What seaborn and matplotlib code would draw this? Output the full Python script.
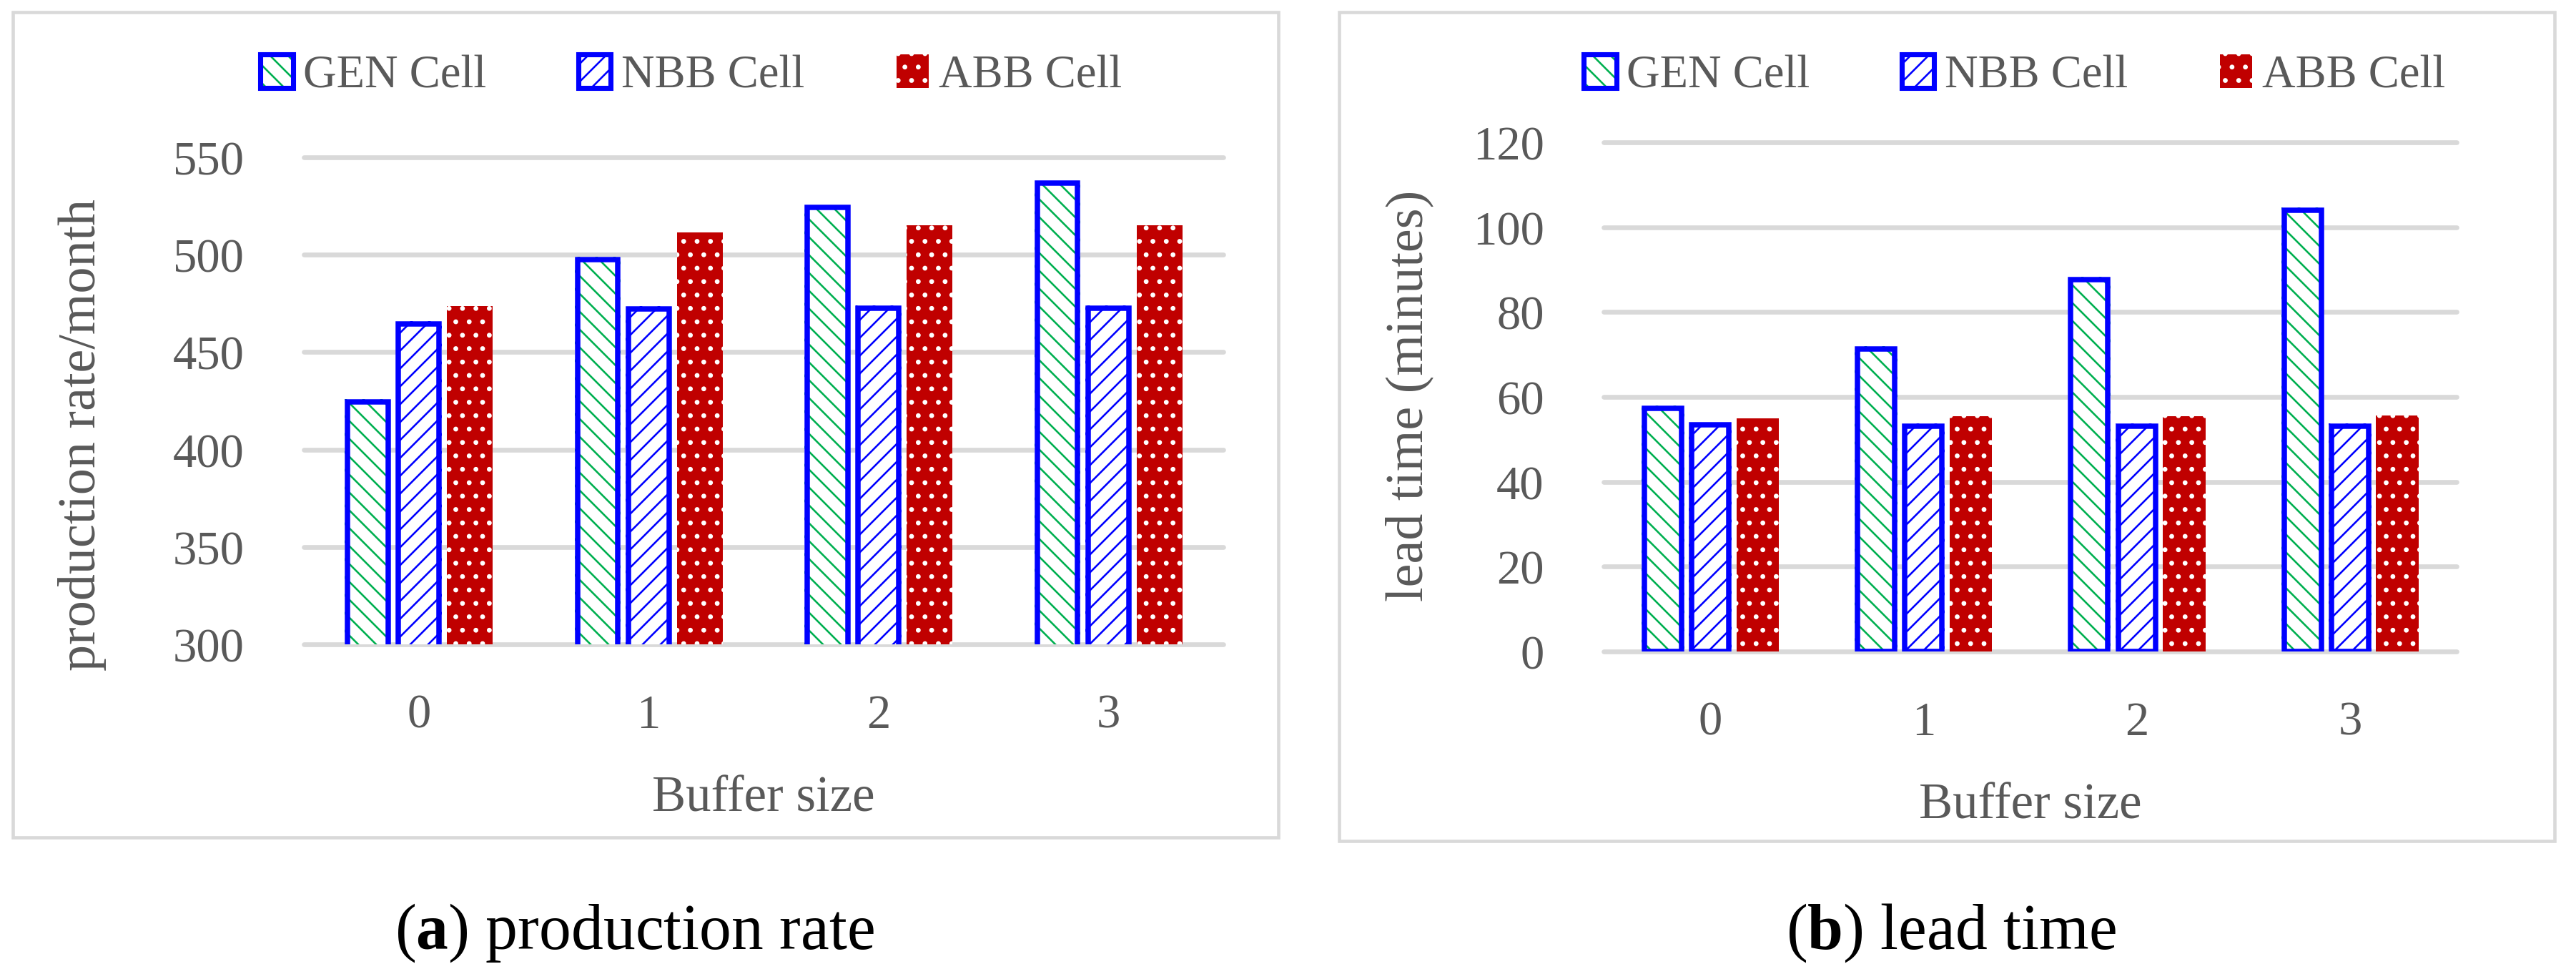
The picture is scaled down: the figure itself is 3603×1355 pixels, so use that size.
import matplotlib
matplotlib.use("Agg")
import numpy as np
import pandas as pd
import seaborn as sns
import matplotlib.pyplot as plt
import matplotlib.patches as mpatches
import matplotlib.hatch as mhatch
from matplotlib.legend_handler import HandlerTuple

# ---------------- data ----------------
buffer_sizes = ["0", "1", "2", "3"]
cell_types = ["GEN Cell", "NBB Cell", "ABB Cell"]

rate_gen = [426, 499, 525.5, 538]
rate_nbb = [466, 473.5, 474, 474]
rate_abb = [473.5, 511.5, 515, 515]

lead_gen = [58, 72, 88.3, 104.6]
lead_nbb = [54, 53.8, 53.8, 53.8]
lead_abb = [55, 55.4, 55.5, 55.6]

rate_ticks = [300, 350, 400, 450, 500, 550]
lead_ticks = [0, 20, 40, 60, 80, 100, 120]

x_label = "Buffer size"
rate_label = "production rate/month"
lead_label = "lead time (minutes)"
caption_a = r"($\mathbf{a}$) production rate"
caption_b = r"($\mathbf{b}$) lead time"

# ---------------- style ----------------
BLUE = "#0000FF"
GREEN = "#00B050"
RED = "#C00000"
GRAY = "#595959"
GRID = "#D9D9D9"
EDGE_LW = 3.6
HATCH_GEN = '\\\\'
HATCH_NBB = '//'
HATCH_ABB = '.'


class DotHatch(mhatch.Circles):
    size = 0.11
    filled = True

    def __init__(self, hatch, density):
        self.num_rows = int(hatch.count('.') * density * 1.4)
        super().__init__(hatch, density)


mhatch._hatch_types = [DotHatch if t is mhatch.SmallFilledCircles else t
                       for t in mhatch._hatch_types]

sns.set_theme(style="white")
plt.rcParams['font.family'] = ['Liberation Serif', 'DejaVu Serif']
plt.rcParams['mathtext.fontset'] = 'custom'
plt.rcParams['mathtext.rm'] = 'Liberation Serif'
plt.rcParams['mathtext.bf'] = 'Liberation Serif:bold'
plt.rcParams['hatch.linewidth'] = 1.25

W, H = 3603, 1356
DPI = 150
fig = plt.figure(figsize=(W / DPI, H / DPI), dpi=DPI)
fig.patch.set_facecolor("white")


def px_axes(x0, x1, ytop, ybot):
    return [x0 / W, 1 - ybot / H, (x1 - x0) / W, (ybot - ytop) / H]


def make_df(g, n, a):
    return pd.DataFrame({
        "buffer": buffer_sizes * 3,
        "value": list(g) + list(n) + list(a),
        "cell": np.repeat(cell_types, len(buffer_sizes)),
    })


def draw_panel(ax, df, ylim, yticks, ylabel, ylab_pos, xlab_y):
    sns.barplot(data=df, x="buffer", y="value", hue="cell",
                order=buffer_sizes, hue_order=cell_types,
                palette={"GEN Cell": "white", "NBB Cell": "white", "ABB Cell": RED},
                width=0.666, gap=0.1, errorbar=None, saturation=1,
                legend=False, ax=ax)
    ax.set_xlim(-0.5, len(buffer_sizes) - 0.5)
    ax.set_ylim(*ylim)
    ax.set_yticks(yticks)
    pos = ax.get_position()
    ax_w_px = pos.width * W
    ax_h_px = pos.height * H
    half_px = EDGE_LW * DPI / 72 / 2
    inset_x = half_px / (ax_w_px / len(buffer_sizes))
    inset_y = half_px / (ax_h_px / (ylim[1] - ylim[0]))
    for cont, cell in zip(ax.containers, cell_types):
        for p in cont.patches:
            if cell == "ABB Cell":
                p.set_facecolor(RED)
                p.set_edgecolor("white")
                p.set_hatch(HATCH_ABB)
                p.set_linewidth(0)
            else:
                p.set_facecolor("white")
                p.set_edgecolor(GREEN if cell == "GEN Cell" else BLUE)
                p.set_hatch(HATCH_GEN if cell == "GEN Cell" else HATCH_NBB)
                p.set_linewidth(0)
                x, y = p.get_xy()
                w, h = p.get_width(), p.get_height()
                ax.add_patch(mpatches.Rectangle(
                    (x + inset_x, y), w - 2 * inset_x, h - inset_y,
                    fill=False, edgecolor=BLUE, linewidth=EDGE_LW,
                    joinstyle='miter', zorder=p.get_zorder() + 0.5))
    ax.set_axisbelow(True)
    ax.yaxis.grid(True, color=GRID, linewidth=3.2)
    ax.xaxis.grid(False)
    for gl in ax.get_ygridlines():
        gl.set_clip_on(False)
    sns.despine(ax=ax, left=True, bottom=True)
    ax.tick_params(axis='both', length=0, labelsize=32, labelcolor=GRAY)
    ax.tick_params(axis='y', pad=40)
    ax.tick_params(axis='x', pad=33)
    ax.set_xlabel("")
    ax.set_ylabel("")
    ax.text(0.5, xlab_y, x_label, transform=ax.transAxes, ha='center',
            va='baseline', fontsize=34, color=GRAY)
    ax.text(ylab_pos[0], ylab_pos[1], ylabel, transform=ax.transAxes,
            ha='center', va='center', rotation=90, fontsize=35.5, color=GRAY)


ax1 = fig.add_axes(px_axes(425, 1711, 221, 902))
ax2 = fig.add_axes(px_axes(2243, 3436, 200, 912))

draw_panel(ax1, make_df(rate_gen, rate_nbb, rate_abb), (300, 550), rate_ticks,
           rate_label, (-0.241, 0.432), -0.342)
draw_panel(ax2, make_df(lead_gen, lead_nbb, lead_abb), (0, 120), lead_ticks,
           lead_label, (-0.228, 0.504), -0.326)

# panel frames
for (x0, y0, x1, y1) in [(18, 18, 1788, 1172), (1873, 18, 3573, 1177)]:
    fig.add_artist(mpatches.Rectangle((x0 / W, 1 - y1 / H), (x1 - x0) / W, (y1 - y0) / H,
                                      transform=fig.transFigure, fill=False,
                                      edgecolor=GRID, linewidth=2.2))

# legends
def legend_handles():
    return [
        (mpatches.Patch(facecolor='white', edgecolor=GREEN, hatch=HATCH_GEN, linewidth=0),
         mpatches.Patch(fill=False, edgecolor=BLUE, linewidth=3.4, joinstyle='round')),
        (mpatches.Patch(facecolor='white', edgecolor=BLUE, hatch=HATCH_NBB, linewidth=0),
         mpatches.Patch(fill=False, edgecolor=BLUE, linewidth=3.4, joinstyle='round')),
        mpatches.Patch(facecolor=RED, edgecolor='white', hatch=HATCH_ABB, linewidth=0),
    ]


for cx in (967, 2818):
    fig.legend(legend_handles(), cell_types, loc='center',
               bbox_to_anchor=(cx / W, 1 - 107 / H), ncol=3, frameon=False,
               fontsize=31, labelcolor=GRAY, handlelength=0.7, handleheight=0.74,
               handletextpad=0.22, columnspacing=2.0, borderpad=0,
               handler_map={tuple: HandlerTuple(ndivide=1, pad=0)})

# captions
fig.text(887 / W, 1 - 1305 / H, caption_a, ha='center', va='center', fontsize=43, color='black')
fig.text(2729 / W, 1 - 1305 / H, caption_b, ha='center', va='center', fontsize=43, color='black')

fig.savefig("out.png", dpi=DPI, facecolor="white")
